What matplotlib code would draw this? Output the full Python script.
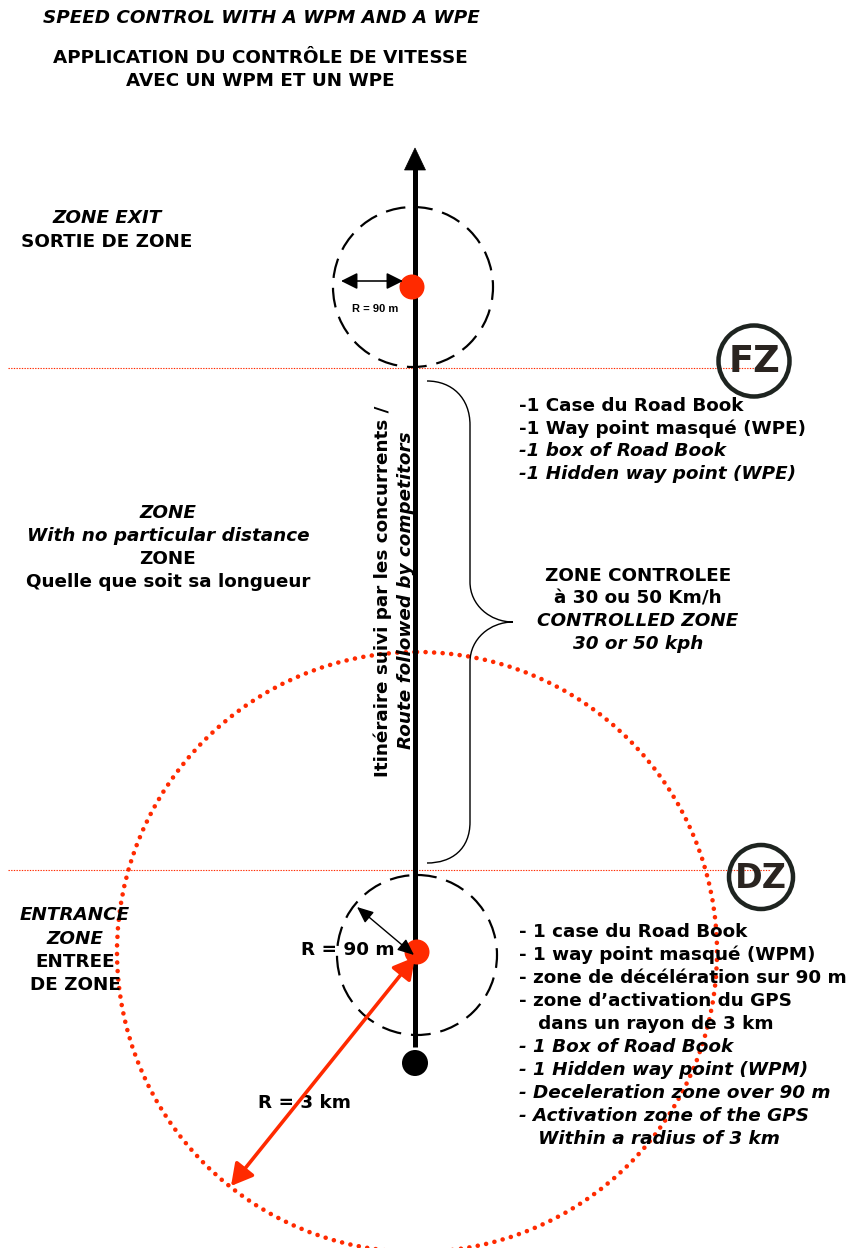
import matplotlib
matplotlib.use("Agg")
import matplotlib.pyplot as plt
from matplotlib.patches import Circle, FancyArrowPatch, PathPatch, Polygon
from matplotlib.path import Path

# ---------------- data (texts and scheme values) ----------------
title_en = "SPEED CONTROL WITH A WPM AND A WPE"
title_fr = ["APPLICATION DU CONTRÔLE DE VITESSE", "AVEC UN WPM ET UN WPE"]

exit_labels = ["ZONE EXIT", "SORTIE DE ZONE"]
exit_italic = [True, False]

zone_labels = ["ZONE", "With no particular distance", "ZONE", "Quelle que soit sa longueur"]
zone_italic = [True, True, False, False]

entrance_labels = ["ENTRANCE", "ZONE", "ENTREE", "DE ZONE"]
entrance_italic = [True, True, False, False]

wpe_labels = ["-1 Case du Road Book", "-1 Way point masqué (WPE)",
              "-1 box of Road Book", "-1 Hidden way point (WPE)"]
wpe_italic = [False, False, True, True]

ctrl_labels = ["ZONE CONTROLEE", "à 30 ou 50 Km/h", "CONTROLLED ZONE", "30 or 50 kph"]
ctrl_italic = [False, False, True, True]

wpm_labels = ["- 1 case du Road Book", "- 1 way point masqué (WPM)",
              "- zone de décélération sur 90 m", "- zone d\u2019activation du GPS",
              "   dans un rayon de 3 km", "- 1 Box of Road Book",
              "- 1 Hidden way point (WPM)", "- Deceleration zone over 90 m",
              "- Activation zone of the GPS", "   Within a radius of 3 km"]
wpm_italic = [False] * 5 + [True] * 5

route_labels = ["Itinéraire suivi par les concurrents /", "Route followed by competitors"]
route_italic = [False, True]

badge_labels = ["FZ", "DZ"]
radius_small_label = "R = 90 m"
radius_big_label = "R = 3 km"

# ---------------- layout (pixel coordinates) ----------------
W, H = 859, 1248
fig = plt.figure(figsize=(W / 100, H / 100), dpi=100)
ax = fig.add_axes([0, 0, 1, 1])
ax.set_xlim(0, W)
ax.set_ylim(H, 0)
ax.axis("off")

FONT = "DejaVu Sans"
FS = 13.2
LINE = 23
RED = "#ff2a00"
px = 72 / 100  # points per pixel


def block(lines, italics, x, y0, ha="center", fs=FS, step=LINE):
    for i, (t, it) in enumerate(zip(lines, italics)):
        ax.text(x, y0 + i * step, t, ha=ha, va="center", fontsize=fs,
                fontweight="bold", fontstyle="italic" if it else "normal",
                family=FONT, color="black")


# titles
ax.text(261, 18, title_en, ha="center", va="center", fontsize=FS,
        fontweight="bold", fontstyle="italic", family=FONT)
block(title_fr, [False, False], 260, 58)

# left texts
block(exit_labels, exit_italic, 107, 218, step=24)
block(zone_labels, zone_italic, 168, 513)
block(entrance_labels, entrance_italic, 75, 915, step=23.5)

# right texts
block(wpe_labels, wpe_italic, 519, 406, ha="left", step=22.7)
block(ctrl_labels, ctrl_italic, 638, 576, step=22.7)
block(wpm_labels, wpm_italic, 519, 932, ha="left", step=23)

# horizontal dotted separators
for yy in (368, 870):
    ax.plot([8, 770], [yy, yy], color=RED, lw=0.8, ls=(0, (1.2, 1.2)), zorder=1)

# big red dotted circle (3 km)
cx, cy = 417, 952
ax.add_patch(Circle((cx, cy), 300, fill=False, ec=RED, lw=4.6 * px,
                    ls=(0, (0.01, 1.85)), capstyle="round", zorder=2))

# dashed black circles (90 m)
for (x0, y0) in ((413, 287), (417, 955)):
    ax.add_patch(Circle((x0, y0), 80, fill=False, ec="black", lw=2.2 * px,
                        ls=(0, (9, 4.5)), zorder=3))

# route line and arrow head
ax.plot([415, 415], [1047, 168], color="black", lw=5 * px, solid_capstyle="butt", zorder=4)
ax.add_patch(Polygon([[404.5, 170], [425.5, 170], [415, 148]], closed=True,
                     fc="black", ec="black", lw=0.5, zorder=4))

# bottom start dot
ax.add_patch(Circle((415, 1063), 13, fc="black", ec="none", zorder=5))

# red waypoint dots
ax.add_patch(Circle((412, 287), 12.5, fc=RED, ec="none", zorder=6))
ax.add_patch(Circle((417, 952), 12.5, fc=RED, ec="none", zorder=6))

# top small radius arrow
ax.add_patch(FancyArrowPatch((341, 281), (403, 281), arrowstyle="<|-|>,head_length=10,head_width=5",
                             mutation_scale=1, lw=1.6 * px, color="black", zorder=7,
                             shrinkA=0, shrinkB=0))
ax.text(375, 309, radius_small_label, ha="center", va="center", fontsize=8,
        fontweight="bold", family="Liberation Sans", color="black")

# bottom small radius arrow
ax.add_patch(FancyArrowPatch((357, 907), (414, 955), arrowstyle="<|-|>,head_length=10,head_width=4.3",
                             mutation_scale=1, lw=1.4 * px, color="black", zorder=8,
                             shrinkA=0, shrinkB=0))
ax.text(348, 950, radius_small_label, ha="center", va="center", fontsize=FS,
        fontweight="bold", family=FONT, zorder=2)

# red 3 km arrow
ax.add_patch(FancyArrowPatch((415, 957), (231, 1186), arrowstyle="<|-|>,head_length=13,head_width=7.2",
                             mutation_scale=1, lw=3.6 * px, color=RED, zorder=7,
                             shrinkA=0, shrinkB=0))
ax.text(305, 1103, radius_big_label, ha="center", va="center", fontsize=FS,
        fontweight="bold", family=FONT)

# rotated route texts
ax.text(383, 591, route_labels[0], rotation=90, ha="center", va="center", fontsize=FS,
        fontweight="bold", family=FONT, fontstyle="italic" if route_italic[0] else "normal")
ax.text(406, 590, route_labels[1], rotation=90, ha="center", va="center", fontsize=FS,
        fontweight="bold", family=FONT, fontstyle="italic" if route_italic[1] else "normal")

# curly brace
verts = [(427, 381), (452, 381), (470, 398), (470, 425),
         (470, 582),
         (470, 605), (490, 622), (513, 622),
         (490, 622), (470, 639), (470, 662),
         (470, 822),
         (470, 849), (452, 863), (427, 863)]
codes = [Path.MOVETO, Path.CURVE4, Path.CURVE4, Path.CURVE4,
         Path.LINETO,
         Path.CURVE4, Path.CURVE4, Path.CURVE4,
         Path.CURVE4, Path.CURVE4, Path.CURVE4,
         Path.LINETO,
         Path.CURVE4, Path.CURVE4, Path.CURVE4]
ax.add_patch(PathPatch(Path(verts, codes), fill=False, ec="black", lw=1.4 * px, zorder=3))

# FZ / DZ badges
for lab, (bx, by, br, fs) in zip(badge_labels, ((754, 361, 35.5, 26.5), (761, 877, 32, 24))):
    ax.add_patch(Circle((bx, by), br, fc="none", ec="#1e2420", lw=4.5 * px, zorder=9))
    ax.text(bx, by + 1, lab, ha="center", va="center", fontsize=fs,
            fontweight="heavy", family=FONT, color="#2a2420", zorder=10)

fig.savefig("out.png", dpi=100)
